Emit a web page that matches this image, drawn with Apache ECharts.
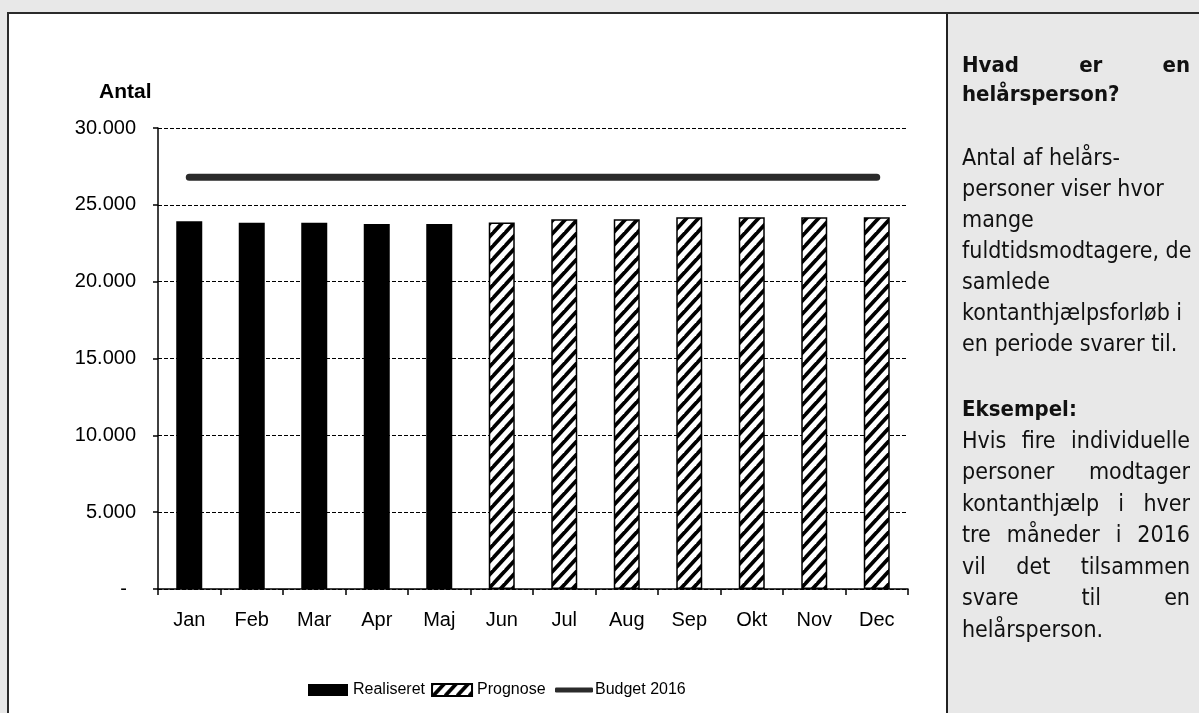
<!DOCTYPE html>
<html><head><meta charset="utf-8">
<script src="https://cdn.jsdelivr.net/npm/echarts@6/dist/echarts.min.js"></script>
<style>
html,body{margin:0;padding:0;width:1199px;height:713px;overflow:hidden;background:#e8e8e8;}
#frame{position:absolute;left:7px;top:12px;width:1192px;height:701px;border-top:2px solid #2b2b2b;border-left:2px solid #2b2b2b;box-sizing:border-box;}
#left{position:absolute;left:9px;top:14px;width:937px;height:699px;background:#fff;}
#sep{position:absolute;left:946px;top:14px;width:2px;height:699px;background:#222;}
#chart{position:absolute;left:0;top:0;width:1199px;height:713px;}
.panel{position:absolute;left:962px;width:228px;font-family:'DejaVu Sans Condensed','DejaVu Sans',sans-serif;font-stretch:condensed;color:#111;z-index:5;}
.ln{white-space:nowrap;}
.j{text-align:justify;text-align-last:justify;}
.b{font-weight:bold;}
</style></head>
<body>
<div id="frame"></div>
<div id="left"></div>
<div id="sep"></div>
<div id="chart"></div>
<div class="panel b" style="top:50px;font-size:22px;line-height:29px;">
  <div class="ln j">Hvad er en</div>
  <div class="ln">helårsperson?</div>
</div>
<div class="panel" style="top:142px;font-size:23px;line-height:31px;">
  <div class="ln">Antal af helårs-</div>
  <div class="ln">personer viser hvor</div>
  <div class="ln">mange</div>
  <div class="ln">fuldtidsmodtagere, de</div>
  <div class="ln">samlede</div>
  <div class="ln">kontanthjælpsforløb i</div>
  <div class="ln">en periode svarer til.</div>
</div>
<div class="panel" style="top:393px;font-size:23px;line-height:31.5px;">
  <div class="ln b" style="font-size:22px;">Eksempel:</div>
  <div class="ln j">Hvis fire individuelle</div>
  <div class="ln j">personer modtager</div>
  <div class="ln j">kontanthjælp i hver</div>
  <div class="ln j">tre måneder i 2016</div>
  <div class="ln j">vil det tilsammen</div>
  <div class="ln j">svare til en</div>
  <div class="ln">helårsperson.</div>
</div>
<script>
const categories = ['Jan','Feb','Mar','Apr','Maj','Jun','Jul','Aug','Sep','Okt','Nov','Dec'];
const realiseret = [23930, 23830, 23830, 23760, 23760, null, null, null, null, null, null, null];
const prognose = [null, null, null, null, null, 23850, 24060, 24060, 24190, 24190, 24190, 24190];
const budget2016 = [26800, 26800, 26800, 26800, 26800, 26800, 26800, 26800, 26800, 26800, 26800, 26800];
const seriesNames = ['Realiseret', 'Prognose', 'Budget 2016'];
const yAxisName = 'Antal';

const FONT = "'Liberation Sans Narrow','Arial Narrow','Liberation Sans',Arial,sans-serif";

function makeHatch(){
  const w = 12, h = 13;
  const c = document.createElement('canvas');
  c.width = w; c.height = h;
  const g = c.getContext('2d');
  g.fillStyle = '#fff'; g.fillRect(0, 0, w, h);
  g.strokeStyle = '#000'; g.lineWidth = 3.8;
  for (let k = -1; k <= 3; k++) {
    g.beginPath();
    g.moveTo((k + 1) * w, -h);
    g.lineTo((k - 2) * w, 2 * h);
    g.stroke();
  }
  return c;
}
const hatch = makeHatch();

function fmt(v){
  if (v === 0) return '{z|-}';
  return String(v).replace(/\B(?=(\d{3})+(?!\d))/g, '.');
}

const chart = echarts.init(document.getElementById('chart'), null, {renderer: 'canvas'});
chart.setOption({
  animation: false,
  backgroundColor: 'transparent',
  textStyle: {fontFamily: FONT, color: '#000'},
  grid: {left: 158, top: 128, width: 750, height: 461, containLabel: false},
  graphic: [{
    type: 'text', left: 99, top: 82,
    style: {text: yAxisName, font: "bold 21px " + FONT, fill: '#000'}
  }],
  legend: [{
    left: 303, top: 677,
    itemWidth: 40, itemHeight: 12, itemGap: 6,
    data: [{name: seriesNames[0], icon: 'rect'}, {name: seriesNames[1], icon: 'rect'}],
    textStyle: {fontFamily: FONT, fontSize: 16, color: '#000'}
  }, {
    left: 550, top: 677,
    itemWidth: 38, itemHeight: 5,
    data: [{name: seriesNames[2], icon: 'roundRect'}],
    itemStyle: {color: '#2b2b2b'},
    textStyle: {fontFamily: FONT, fontSize: 16, color: '#000', padding: [0, 0, 0, -3]}
  }],
  xAxis: {
    type: 'category', data: categories,
    axisLine: {show: true, lineStyle: {color: '#000', width: 1.5}},
    axisTick: {show: true, alignWithLabel: false, interval: 0, length: 6, lineStyle: {color: '#000', width: 1.5}},
    axisLabel: {fontFamily: FONT, fontSize: 20, color: '#000', margin: 21, interval: 0},
    splitLine: {show: false}
  },
  yAxis: {
    type: 'value', min: 0, max: 30000, interval: 5000,
    axisLine: {show: true, lineStyle: {color: '#000', width: 1.5}},
    axisTick: {show: true, length: 5, lineStyle: {color: '#000', width: 1.5}},
    axisLabel: {fontFamily: FONT, fontSize: 20, color: '#000', margin: 22, formatter: fmt,
      rich: {z: {fontFamily: FONT, fontSize: 20, color: '#000', padding: [0, 9, 0, 0]}}},
    splitLine: {show: true, lineStyle: {color: '#000', width: 1, type: [4, 2]}}
  },
  series: [
    {name: seriesNames[0], type: 'bar', data: realiseret, barWidth: 26, barGap: '-100%',
     itemStyle: {color: '#000'}},
    {name: seriesNames[1], type: 'bar', data: prognose, barWidth: 26, barGap: '-100%',
     itemStyle: {color: {image: hatch, repeat: 'repeat'}, borderColor: '#000', borderWidth: 1.5}},
    {name: seriesNames[2], type: 'line', data: budget2016, symbol: 'none',
     lineStyle: {color: '#2b2b2b', width: 7, cap: 'round'}, itemStyle: {color: '#2b2b2b'}}
  ]
});
</script>
</body></html>
